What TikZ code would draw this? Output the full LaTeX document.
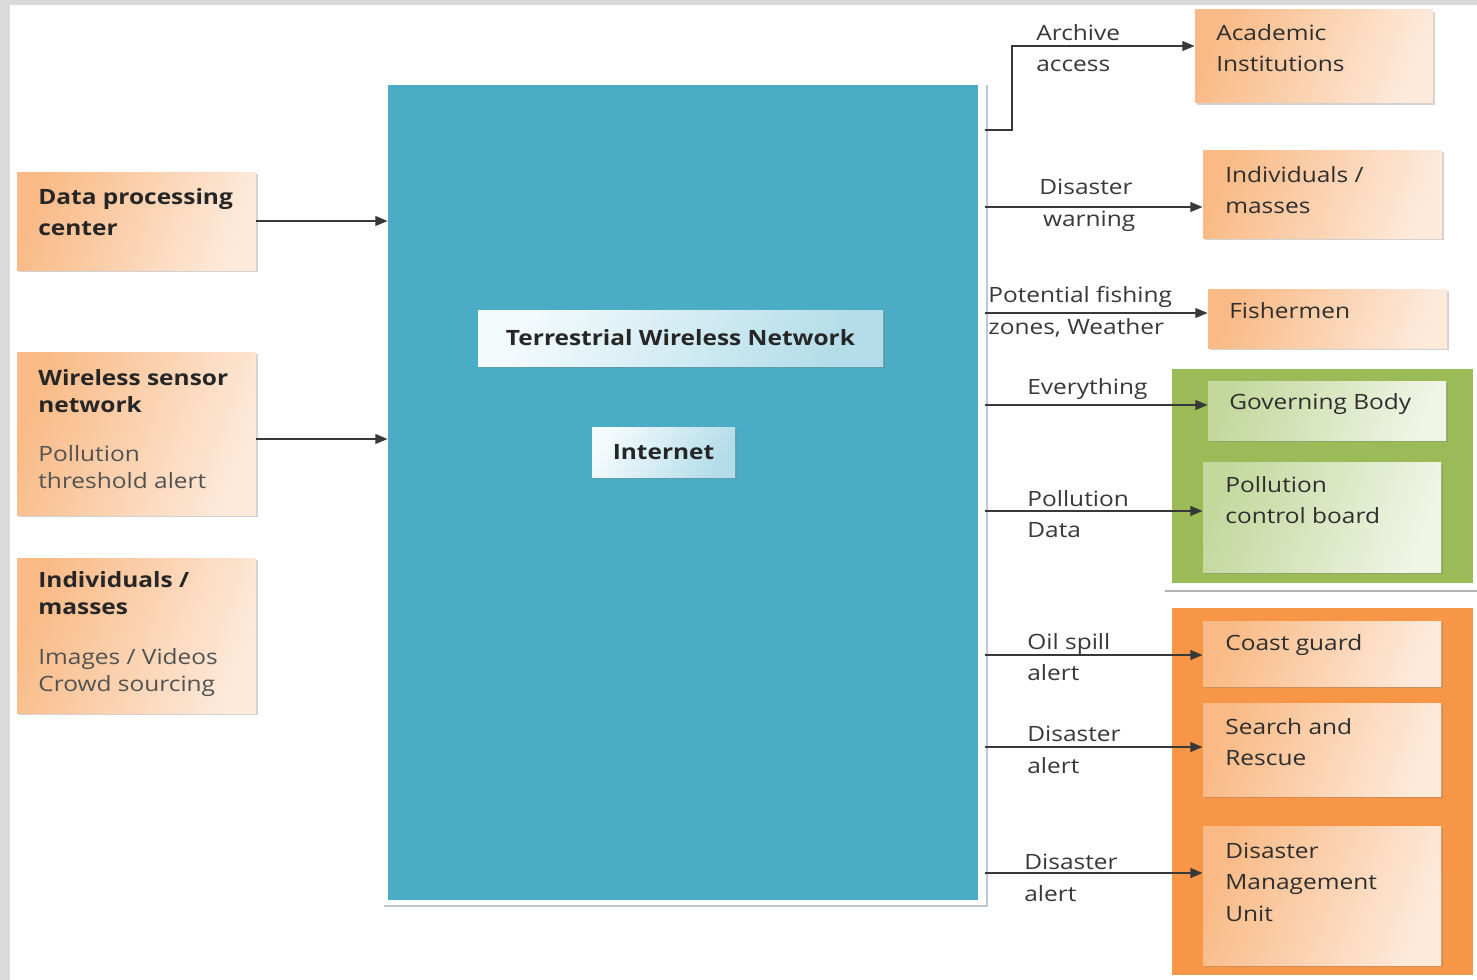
\documentclass[tikz,border=0pt]{standalone}
\usepackage{fontspec}
\setmainfont{Open Sans}[FakeStretch=1.16]
\usetikzlibrary{arrows.meta,fit,shadows}

\definecolor{netblue}{HTML}{4BACC6}
\definecolor{grpgreen}{HTML}{9BBB59}
\definecolor{grporange}{HTML}{F79646}
\definecolor{orgdark}{HTML}{F9BA86}
\definecolor{orglight}{HTML}{FDEADB}
\definecolor{grndark}{HTML}{C4D89E}
\definecolor{grnlight}{HTML}{F0F5E6}
\definecolor{bludark}{HTML}{B4DDE9}
\definecolor{blulight}{HTML}{F2FAFC}
\definecolor{framegray}{HTML}{DADADA}
\definecolor{linegray}{HTML}{BCC8CE}

\tikzset{
  boxshadow/.style={drop shadow={shadow xshift=1.2pt,shadow yshift=-1.2pt,opacity=.35}},
  obox/.style={rectangle,inner sep=0pt,left color=orgdark,right color=orglight,shading angle=70,boxshadow},
  gbox/.style={rectangle,inner sep=0pt,left color=grndark,right color=grnlight,shading angle=70,boxshadow},
  ibox/.style={rectangle,inner sep=0pt,left color=blulight,right color=bludark,shading angle=60,boxshadow},
  grp/.style={rectangle,inner sep=0pt},
  netbox/.style={rectangle,inner sep=0pt,fill=netblue},
  srctxt/.style={anchor=west,inner sep=0pt,align=left,text=black!85,font=\fontsize{12}{15.5}\selectfont\bfseries},
  boxtxt/.style={anchor=west,inner sep=0pt,align=left,text=black!82,font=\fontsize{12}{18}\selectfont},
  intxt/.style={inner sep=0pt,text=black!85,font=\fontsize{12}{18}\selectfont\bfseries},
  lbl/.style={anchor=west,inner sep=0pt,align=left,text=black!78,font=\fontsize{12}{18}\selectfont},
  arr/.style={draw=black!78,line width=1.1pt,-{Triangle[length=7pt,width=5.5pt]}}
}
\newcommand{\subtxt}[1]{{\mdseries\color{black!68}#1}}

\begin{document}
\begin{tikzpicture}[x=0.02cm,y=-0.02cm]
    \useasboundingbox (0,0) rectangle (1477,980);
    \fill[framegray] (0,0) rectangle (1477,980);
    \fill[white] (10,5) rectangle (1477,980);
    %
    \node[netbox,fit={(388,85) (978,900)}] (net) {};
    \draw[linegray,line width=1.3pt] ([xshift=5pt]net.north east) -- ([xshift=5pt,yshift=-3.4pt]net.south east) -- ([xshift=-2pt,yshift=-3.4pt]net.south west);
    \node[ibox,fit={(478,310) (883,366)}] (terr) {};
    \node[intxt] (terrtxt) at (terr.center) {Terrestrial Wireless Network};
    \node[ibox,fit={(592,427) (735,477)}] (inet) {};
    \node[intxt] (inettxt) at (inet.center) {Internet};
    %
    \node[obox,fit={(17,172) (256,270)}] (dpc) {};
    \node[srctxt] (dpctxt) at (38,212) {Data processing\\[2.5pt]center};
    \node[obox,fit={(17,352) (256,515)}] (wsn) {};
    \node[srctxt] (wsntxt) at (38,429) {Wireless sensor\\network\\[12.5pt]\subtxt{Pollution}\\\subtxt{threshold alert}};
    \node[obox,fit={(17,558) (256,713)}] (crowd) {};
    \node[srctxt] (crowdtxt) at (38,634) {Individuals /\\masses\\[12.5pt]\subtxt{Images / Videos}\\\subtxt{Crowd sourcing}};
    %
    \draw[arr] (dpc.east) -- (net.west |- dpc.east);
    \draw[arr] (wsn.east |- 0,439) -- (net.west |- 0,439);
    %
    \node[obox,fit={(1195,10) (1433,103)}] (acad) {};
    \node[boxtxt] (acadtxt) at (1216,48) {Academic\\Institutions};
    \node[obox,fit={(1203,150) (1442,238)}] (indiv) {};
    \node[boxtxt] (indivtxt) at (1225,190) {Individuals /\\masses};
    \node[obox,fit={(1208,289) (1447,348)}] (fish) {};
    \node[boxtxt] (fishtxt) at (1229,311) {Fishermen};
    %
    \node[grp,fill=grpgreen,fit={(1172,369) (1473,583)}] (govgrp) {};
    \draw[black!30,line width=1.5pt] (1165,591) -- (1477,591);
    \node[gbox,fit={(1208,381) (1446,440)}] (gov) {};
    \node[boxtxt] (govtxt) at (1229,404) {Governing Body};
    \node[gbox,fit={(1203,462) (1441,572)}] (pcb) {};
    \node[boxtxt] (pcbtxt) at (1225,500) {Pollution\\control board};
    %
    \node[grp,fill=grporange,fit={(1172,608) (1473,975)}] (rescgrp) {};
    \node[obox,fit={(1203,621) (1441,686)}] (coast) {};
    \node[boxtxt] (coasttxt) at (1225,645) {Coast guard};
    \node[obox,fit={(1203,703) (1441,796)}] (sar) {};
    \node[boxtxt] (sartxt) at (1225,742) {Search and\\Rescue};
    \node[obox,fit={(1203,826) (1441,965)}] (dmu) {};
    \node[boxtxt] (dmutxt) at (1225,882) {Disaster\\Management\\Unit};
    %
    \draw[arr] ([xshift=4pt]net.east |- 0,130) -- ++(27,0) |- (acad.west |- 0,46);
    \draw[arr] ([xshift=4pt]net.east |- 0,207) -- (indiv.west |- 0,207);
    \draw[arr] ([xshift=4pt]net.east |- 0,313) -- (fish.west |- 0,313);
    \draw[arr] ([xshift=4pt]net.east |- 0,405) -- (gov.west |- 0,405);
    \draw[arr] ([xshift=4pt]net.east |- 0,511) -- (pcb.west |- 0,511);
    \draw[arr] ([xshift=4pt]net.east |- 0,655) -- (coast.west |- 0,655);
    \draw[arr] ([xshift=4pt]net.east |- 0,747) -- (sar.west |- 0,747);
    \draw[arr] ([xshift=4pt]net.east |- 0,873) -- (dmu.west |- 0,873);
    %
    \node[lbl] (archlbl) at (1036,48) {Archive\\access};
    \node[lbl,anchor=center,align=center] (warnlbl) at (1086,205) {Disaster\\\ warning};
    \node[lbl] (fishlbl) at (988,312) {Potential fishing\\zones, Weather};
    \node[lbl] (everylbl) at (1027,389) {Everything};
    \node[lbl] (polllbl) at (1027,514) {Pollution\\Data};
    \node[lbl] (oillbl) at (1027,657) {Oil spill\\alert};
    \node[lbl] (alertlbl) at (1027,750) {Disaster\\alert};
    \node[lbl] (dmulbl) at (1024,878) {Disaster\\alert};
\end{tikzpicture}
\end{document}
